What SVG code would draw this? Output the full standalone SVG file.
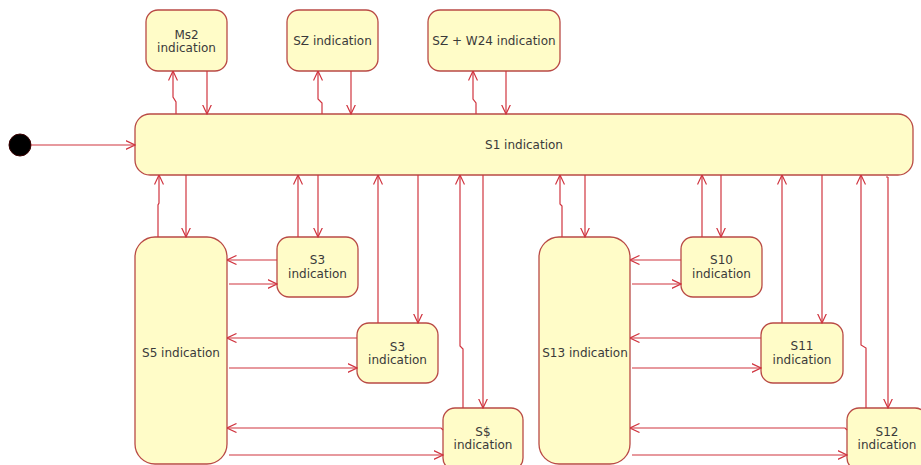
<svg xmlns="http://www.w3.org/2000/svg" width="921" height="465" viewBox="0 0 921 465">
<defs>
<marker id="ah" viewBox="0 0 10 10" refX="9.5" refY="5" markerWidth="10" markerHeight="10" markerUnits="userSpaceOnUse" orient="auto">
<path d="M0,0.5 L9.5,5 L0,9.5" fill="none" stroke="#d0343f" stroke-width="1.2"/>
</marker>
</defs>
<style>
.st{fill:#fffcc8;stroke:#b94a45;stroke-width:1.3}
.tx{font-family:"DejaVu Sans",Tahoma,sans-serif;font-size:12px;fill:#3a3a3a;text-anchor:middle}
.c{fill:none;stroke:#d0343f;stroke-width:1.2;marker-end:url(#ah)}
.p{fill:none;stroke:#d0343f;stroke-width:1.2}
</style>
<rect width="921" height="465" fill="#ffffff"/>
<g id="start"><circle cx="20" cy="145" r="11" fill="#000000" stroke="#3a0000" stroke-width="1"/></g>
<g id="S1"><rect class="st" x="135" y="114" width="778" height="61" rx="15"/><text class="tx" x="524" y="149">S1 indication</text></g>
<g id="Ms2"><rect class="st" x="146" y="10" width="81" height="61" rx="12"/><text class="tx" x="186.5" y="39">Ms2</text><text class="tx" x="186.5" y="52">indication</text></g>
<g id="SZ"><rect class="st" x="287" y="10" width="91" height="61" rx="12"/><text class="tx" x="332.5" y="45">SZ indication</text></g>
<g id="SZW24"><rect class="st" x="428" y="10" width="132" height="61" rx="12"/><text class="tx" x="494" y="45">SZ + W24 indication</text></g>
<g id="S5"><rect class="st" x="135" y="237" width="92" height="227" rx="20"/><text class="tx" x="181" y="357">S5 indication</text></g>
<g id="S3a"><rect class="st" x="277" y="237" width="81" height="60" rx="12"/><text class="tx" x="317.5" y="264">S3</text><text class="tx" x="317.5" y="278">indication</text></g>
<g id="S3b"><rect class="st" x="357" y="323" width="81" height="60" rx="12"/><text class="tx" x="397.5" y="351">S3</text><text class="tx" x="397.5" y="364">indication</text></g>
<g id="Sdollar"><rect class="st" x="443" y="408" width="80" height="62" rx="12"/><text class="tx" x="483" y="436">S$</text><text class="tx" x="483" y="449">indication</text></g>
<g id="S13"><rect class="st" x="539" y="237" width="91" height="227" rx="20"/><text class="tx" x="585" y="357">S13 indication</text></g>
<g id="S10"><rect class="st" x="681" y="237" width="81" height="60" rx="12"/><text class="tx" x="721.5" y="264">S10</text><text class="tx" x="721.5" y="278">indication</text></g>
<g id="S11"><rect class="st" x="761" y="323" width="82" height="60" rx="12"/><text class="tx" x="802" y="350">S11</text><text class="tx" x="802" y="364">indication</text></g>
<g id="S12"><rect class="st" x="847" y="408" width="80" height="62" rx="12"/><text class="tx" x="887" y="436">S12</text><text class="tx" x="887" y="449">indication</text></g>
<g id="connectors">
<path class="c" d="M31,145 H135"/>
<path class="c" d="M176,114 V102 L173,97 V71"/>
<path class="c" d="M207,71 V114"/>
<path class="c" d="M322,114 V103 L318,99 V71"/>
<path class="c" d="M351,71 V114"/>
<path class="c" d="M476,114 V103 L473,99 V71"/>
<path class="c" d="M506,71 V114"/>
<path class="c" d="M158,237 V205 L159,203 V175"/>
<path class="c" d="M186,175 V237"/>
<path class="c" d="M298,237 V175"/>
<path class="c" d="M318,175 V237"/>
<path class="c" d="M277,260 H227"/>
<path class="c" d="M229,284 H277"/>
<path class="c" d="M378,323 V175"/>
<path class="c" d="M418,175 V323"/>
<path class="c" d="M357,338 H227"/>
<path class="c" d="M229,368 H357"/>
<path class="c" d="M463,408 V349 L460,346 V175"/>
<path class="c" d="M483,175 V408"/>
<path class="c" d="M443,430 L441,428 H227"/>
<path class="c" d="M229,455 H443"/>
<path class="c" d="M562,237 V206 L560,204 V175"/>
<path class="c" d="M585,175 V237"/>
<path class="c" d="M702,237 V175"/>
<path class="c" d="M721,175 V237"/>
<path class="c" d="M681,260 H630"/>
<path class="c" d="M632,284 H681"/>
<path class="c" d="M782,323 V175"/>
<path class="c" d="M822,175 V323"/>
<path class="c" d="M761,338 H630"/>
<path class="c" d="M632,368 H761"/>
<path class="c" d="M866,408 V348 L861,345 V175"/>
<path class="c" d="M888,177 V408"/>
<path class="p" d="M886,177 H888"/>
<path class="c" d="M847,430 L845,428 H630"/>
<path class="c" d="M632,455 H847"/>
</g>
</svg>
